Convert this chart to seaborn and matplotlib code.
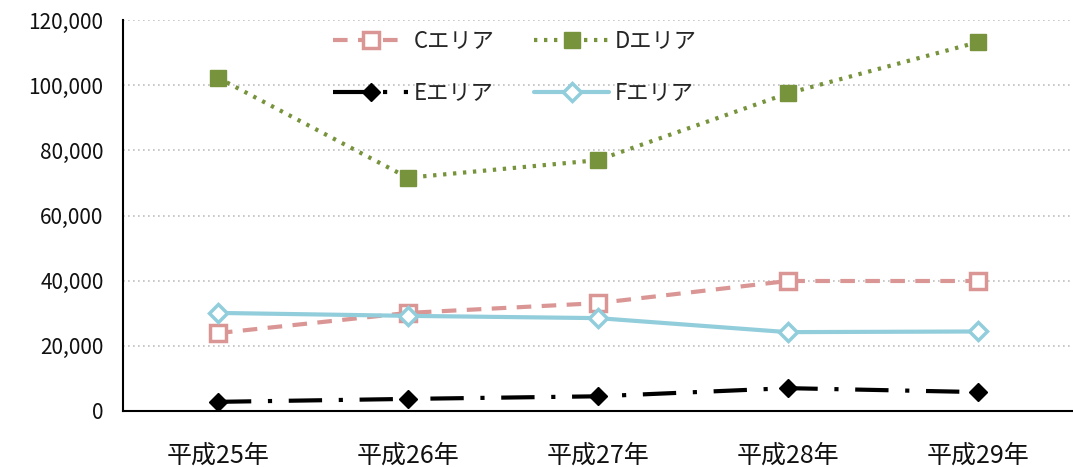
import pandas as pd
import matplotlib
matplotlib.use('Agg')
import matplotlib.pyplot as plt
from matplotlib.ticker import FuncFormatter
import seaborn as sns

# Data
years = ['平成25年', '平成26年', '平成27年', '平成28年', '平成29年']
c_area = [23900, 30100, 33100, 39900, 39900]
d_area = [102300, 71600, 77000, 97500, 113200]
e_area = [2800, 3700, 4500, 7000, 5800]
f_area = [30100, 29200, 28500, 24200, 24400]

series_names = ['Cエリア', 'Dエリア', 'Eエリア', 'Fエリア']

sns.set_style('white')
plt.rcParams['font.family'] = ['Noto Sans CJK JP', 'DejaVu Sans']

df = pd.DataFrame({
    '年': years * 4,
    'area': sum([[n] * len(years) for n in series_names], []),
    'value': c_area + d_area + e_area + f_area,
})

fig = plt.figure(figsize=(10.73, 4.67), dpi=100)
ax = fig.add_axes([0.1146, 0.12, 0.885, 0.837])

styles = {
    'Cエリア': dict(color='#DA9694', ls=(0, (3.5, 2.5)), marker='s', mfc='white', ms=11, mew=2.5),
    'Dエリア': dict(color='#77933C', ls=(0, (0.8, 1.6)), marker='s', mfc='#77933C', ms=11, mew=1),
    'Eエリア': dict(color='black', ls=(0, (8, 4, 1, 4)), marker='D', mfc='black', ms=9, mew=1),
    'Fエリア': dict(color='#92CDDC', ls='-', marker='D', mfc='white', ms=9, mew=2.5),
}

for name in series_names:
    sub = df[df['area'] == name]
    st = styles[name]
    sns.lineplot(data=sub, x='年', y='value', ax=ax, label=name, sort=False,
                 color=st['color'], linestyle=st['ls'], linewidth=3,
                 marker=st['marker'], markersize=st['ms'],
                 markerfacecolor=st['mfc'], markeredgecolor=st['color'],
                 markeredgewidth=st['mew'])

ax.set_xlim(-0.5, 4.5)
ax.set_ylim(0, 120000)
ax.set_yticks(range(0, 120001, 20000))
ax.yaxis.set_major_formatter(FuncFormatter(lambda v, p: f'{int(v):,}'))
ax.grid(axis='y', color='#BFBFBF', linestyle=(0, (1, 2)), linewidth=1.2)
ax.set_xlabel('')
ax.set_ylabel('')
ax.tick_params(axis='both', length=0, colors='#111111')
ax.tick_params(axis='x', pad=23, labelsize=18)
ax.tick_params(axis='y', pad=14, labelsize=15)

for s in ['top', 'right']:
    ax.spines[s].set_visible(False)
ax.spines['left'].set_color('black')
ax.spines['bottom'].set_color('black')
ax.spines['left'].set_linewidth(1.5)
ax.spines['bottom'].set_linewidth(1.5)

# row-major order: C, D on first row, E, F on second
handles, labels = ax.get_legend_handles_labels()
order = [0, 2, 1, 3]
ax.legend([handles[i] for i in order], [labels[i] for i in order],
          ncol=2, loc='upper left', bbox_to_anchor=(0.2, 1.027), frameon=False,
          fontsize=16, handlelength=3.4, handletextpad=0.25,
          columnspacing=1.75, labelspacing=1.3)

fig.savefig('out.png', dpi=100)
